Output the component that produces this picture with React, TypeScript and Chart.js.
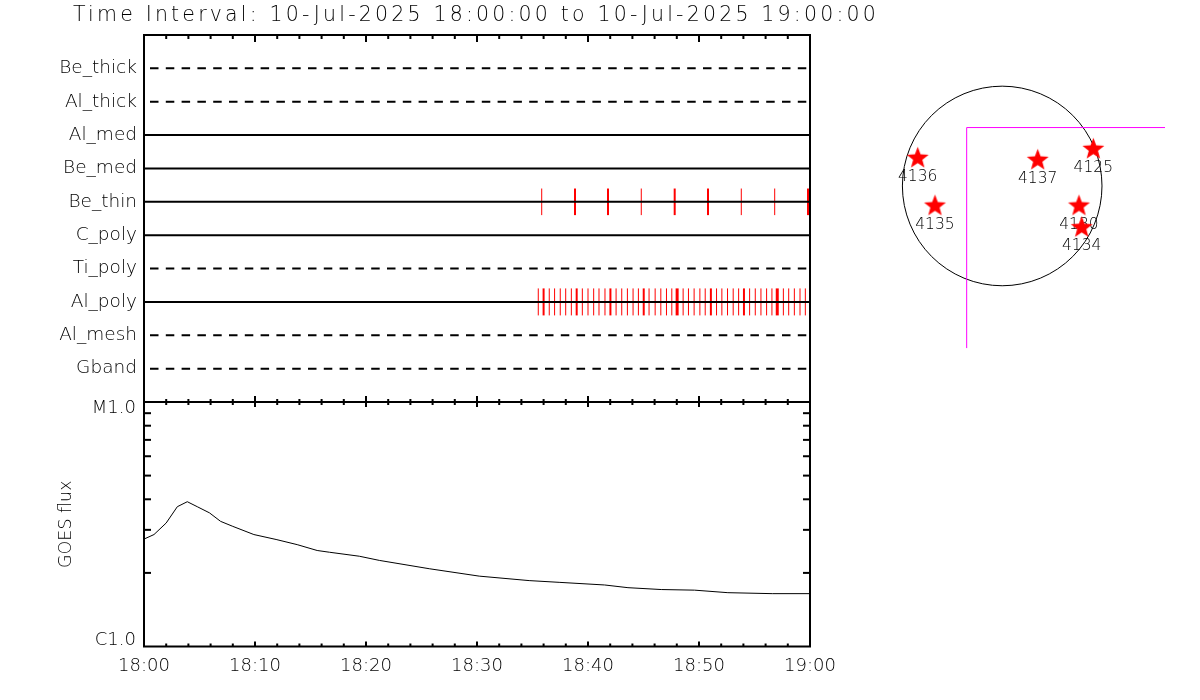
import React, { useEffect, useRef } from 'react';
import { Chart, registerables } from 'chart.js';

Chart.register(...registerables);

const FONT = 'DejaVu Sans';
const WEIGHT = '200';
const TITLE = 'Time Interval: 10-Jul-2025 18:00:00 to 10-Jul-2025 19:00:00';

// ---------- top panel: attenuator / filter states ----------
const FILTERS = ['Be_thick', 'Al_thick', 'Al_med', 'Be_med', 'Be_thin', 'C_poly', 'Ti_poly', 'Al_poly', 'Al_mesh', 'Gband'];
const FILTER_DASHED = [true, true, false, false, false, false, true, false, true, true];

// minutes after 18:00
const BE_THIN_TIMES = [35.83, 38.83, 41.8, 44.8, 47.81, 50.81, 53.81, 56.82, 59.82];
const BE_THIN_WIDTHS = [1, 2, 2, 1, 2, 2, 1, 1, 2];

const AL_POLY_TIMES = [
  35.52, 36.0, 36.51, 36.99, 37.5, 37.99, 38.5, 38.98, 39.49, 40.0,
  40.51, 40.99, 41.53, 42.02, 42.53, 43.04, 43.55, 44.06, 44.54, 45.02,
  45.5, 46.05, 46.56, 47.07, 47.55, 48.03, 48.57, 49.05, 49.56, 50.08,
  50.56, 51.07, 51.58, 52.06, 52.57, 53.08, 53.57, 54.05, 54.56, 55.07,
  55.58, 56.09, 56.57, 57.05, 57.6, 58.08, 58.59, 59.1, 59.58,
];
const AL_POLY_WIDTHS = [
  1, 2, 1, 1, 1, 1, 1, 2, 1, 1,
  1, 1, 1, 2, 1, 1, 1, 1, 1, 2,
  1, 1, 1, 1, 1, 3, 1, 1, 1, 1,
  1, 2, 1, 1, 1, 1, 1, 2, 1, 1,
  1, 1, 1, 3, 1, 1, 1, 1, 1,
];

// ---------- GOES panel ----------
const GOES_TIMES = [0, 0.9, 2.0, 3.0, 3.9, 4.8, 5.9, 6.9, 8.0, 9.9, 11.9, 13.8, 15.6, 16.7, 19.4, 21.2, 25.7, 30.2, 34.7, 37.4, 41.5, 43.6, 46.6, 49.6, 52.6, 56.6, 60];
const GOES_FLUX = [
  2.75e-6, 2.87e-6, 3.2e-6, 3.73e-6, 3.91e-6, 3.73e-6, 3.52e-6, 3.25e-6, 3.1e-6, 2.87e-6,
  2.74e-6, 2.61e-6, 2.47e-6, 2.43e-6, 2.34e-6, 2.25e-6, 2.08e-6, 1.94e-6, 1.86e-6, 1.83e-6,
  1.785e-6, 1.74e-6, 1.71e-6, 1.7e-6, 1.66e-6, 1.645e-6, 1.645e-6,
];

// ---------- axes ----------
const X_MIN = 0;
const X_MAX = 60;
const X_MAJOR = [0, 10, 20, 30, 40, 50, 60];
const X_LABELS = ['18:00', '18:10', '18:20', '18:30', '18:40', '18:50', '19:00'];
const X_MINOR = [2, 4, 6, 8, 12, 14, 16, 18, 22, 24, 26, 28, 32, 34, 36, 38, 42, 44, 46, 48, 52, 54, 56, 58];
const Y_MIN = 1e-6;
const Y_MAX = 1e-5;
const Y_MAJOR = [1e-5, 1e-6];
const Y_LABELS = ['M1.0', 'C1.0'];
const Y_MINOR = [2e-6, 3e-6, 4e-6, 5e-6, 6e-6, 7e-6, 8e-6, 9e-6];

// ---------- solar disk panel (arcsec) ----------
const REGION_IDS = ['4136', '4137', '4125', '4135', '4130', '4134'];
const REGION_X = [-799, 336, 862, -636, 726, 752];
const REGION_Y = [262, 243, 347, -190, -190, -395];
const LIMB_RADIUS = 944;
const FOV_X = [-336, -336, 1540];
const FOV_Y = [-1537, 553, 553];
const SUN_X_RANGE = [-1540, 1540];
const SUN_Y_RANGE = [-1537, 1540];

type FrameCfg = {
  topMajor: number; topMinor: number; bottomMajor: number; bottomMinor: number; yMinor: number;
};

function framePlugin(cfg: FrameCfg) {
  return {
    id: 'frame',
    afterDraw(chart: any) {
      const { ctx, chartArea: a, scales } = chart;
      const x = scales.x;
      const y = scales.y;
      ctx.save();
      ctx.setLineDash([]);
      ctx.strokeStyle = '#000';
      ctx.lineWidth = 2;
      const seg = (x1: number, y1: number, x2: number, y2: number) => {
        ctx.beginPath(); ctx.moveTo(x1, y1); ctx.lineTo(x2, y2); ctx.stroke();
      };
      const xTicks = (vals: number[], topLen: number, botLen: number) => {
        vals.forEach((v) => {
          const p = x.getPixelForValue(v);
          if (topLen) seg(p, a.top, p, a.top + topLen);
          if (botLen) seg(p, a.bottom, p, a.bottom - botLen);
        });
      };
      xTicks(X_MAJOR, cfg.topMajor, cfg.bottomMajor);
      xTicks(X_MINOR, cfg.topMinor, cfg.bottomMinor);
      if (cfg.yMinor) {
        Y_MINOR.forEach((v) => {
          const p = y.getPixelForValue(v);
          seg(a.left, p, a.left + cfg.yMinor, p);
          seg(a.right, p, a.right - cfg.yMinor, p);
        });
      }
      ctx.strokeRect(a.left, a.top, a.right - a.left, a.bottom - a.top);
      ctx.restore();
    },
  };
}

const titlePlugin = {
  id: 'idlTitle',
  afterDraw(chart: any) {
    const { ctx, chartArea: a } = chart;
    ctx.save();
    ctx.font = `${WEIGHT} 20.5px "${FONT}"`;
    (ctx as any).letterSpacing = '3.2px';
    ctx.fillStyle = '#000';
    ctx.textAlign = 'center';
    ctx.textBaseline = 'middle';
    ctx.fillText(TITLE, (a.left + a.right) / 2 - 1, 16);
    ctx.restore();
  },
};

const goesLabelPlugin = {
  id: 'goesLabels',
  afterDraw(chart: any) {
    const { ctx, chartArea: a, scales } = chart;
    ctx.save();
    ctx.font = `${WEIGHT} 18px "${FONT}"`;
    ctx.fillStyle = '#000';
    ctx.textAlign = 'right';
    ctx.textBaseline = 'middle';
    Y_MAJOR.forEach((v, i) => {
      const p = scales.y.getPixelForValue(v);
      const yy = Math.min(Math.max(p, a.top + 6.5), a.bottom - 6.5);
      ctx.fillText(Y_LABELS[i], a.left - 8, yy);
    });
    ctx.restore();
  },
};

const limbPlugin = {
  id: 'limb',
  beforeDatasetsDraw(chart: any) {
    const { ctx, scales } = chart;
    const cx = scales.x.getPixelForValue(0);
    const cy = scales.y.getPixelForValue(0);
    const r = scales.x.getPixelForValue(LIMB_RADIUS) - cx;
    ctx.save();
    ctx.strokeStyle = '#000';
    ctx.lineWidth = 1;
    ctx.beginPath();
    ctx.arc(cx, cy, r, 0, Math.PI * 2);
    ctx.stroke();
    ctx.restore();
  },
};

const regionLabelPlugin = {
  id: 'regionLabels',
  afterDatasetDraw(chart: any, args: any) {
    const ds = chart.data.datasets[args.index];
    if (!ds.regionId) return;
    const pt = args.meta.data[0];
    const { ctx } = chart;
    ctx.save();
    ctx.font = `${WEIGHT} 15.5px "${FONT}"`;
    ctx.fillStyle = '#000';
    ctx.textAlign = 'center';
    ctx.textBaseline = 'middle';
    ctx.fillText(ds.regionId, pt.x, pt.y + 18.5);
    ctx.restore();
  },
};

function makeStar(r: number, color: string) {
  const size = Math.ceil(r * 2) + 2;
  const c = document.createElement('canvas');
  c.width = size;
  c.height = size;
  const g = c.getContext('2d')!;
  g.fillStyle = color;
  g.beginPath();
  for (let k = 0; k < 10; k++) {
    const rr = k % 2 === 0 ? r : r * 0.42;
    const ang = -Math.PI / 2 + (k * Math.PI) / 5;
    const px = size / 2 + rr * Math.cos(ang);
    const py = size / 2 + rr * Math.sin(ang);
    if (k === 0) g.moveTo(px, py); else g.lineTo(px, py);
  }
  g.closePath();
  g.fill();
  return c;
}

const baseOptions = {
  responsive: false,
  animation: false as const,
  devicePixelRatio: 1,
  events: [] as any[],
};

export default function App() {
  const topRef = useRef<HTMLCanvasElement>(null);
  const goesRef = useRef<HTMLCanvasElement>(null);
  const sunRef = useRef<HTMLCanvasElement>(null);

  useEffect(() => {
    const charts: Chart[] = [];
    Chart.defaults.font.family = FONT;
    Chart.defaults.color = '#000';

    const rowOf = (name: string) => FILTERS.indexOf(name) + 1;

    // ---- top panel ----
    charts.push(new Chart(topRef.current!, {
      type: 'line',
      data: {
        datasets: [
          ...FILTERS.map((name, i) => ({
            label: name,
            data: [{ x: X_MIN, y: i + 1 }, { x: X_MAX, y: i + 1 }],
            borderColor: '#000',
            borderWidth: 2,
            borderDash: FILTER_DASHED[i] ? [8.5, 7.3] : [],
            borderDashOffset: 9.8,
            pointRadius: 0,
          })),
          {
            label: 'Be_thin events',
            data: BE_THIN_TIMES.map((t) => ({ x: t, y: rowOf('Be_thin') })),
            showLine: false,
            pointStyle: 'line',
            pointRotation: 90,
            pointRadius: 13.3,
            pointBorderColor: '#ff0000',
            pointBorderWidth: BE_THIN_WIDTHS,
          },
          {
            label: 'Al_poly events',
            data: AL_POLY_TIMES.map((t) => ({ x: t, y: rowOf('Al_poly') })),
            showLine: false,
            pointStyle: 'line',
            pointRotation: 90,
            pointRadius: 13.5,
            pointBorderColor: '#ff0000',
            pointBorderWidth: AL_POLY_WIDTHS,
          },
        ] as any,
      },
      options: {
        ...baseOptions,
        layout: { autoPadding: false, padding: { left: 0, top: 35, right: 390, bottom: 298 } },
        plugins: { legend: { display: false }, tooltip: { enabled: false }, title: { display: false } },
        scales: {
          x: { type: 'linear', min: X_MIN, max: X_MAX, display: false },
          y: {
            type: 'linear', min: 0, max: FILTERS.length + 1, reverse: true,
            grid: { display: false, drawTicks: false },
            border: { display: false },
            ticks: {
              stepSize: 1, autoSkip: false, padding: 7, color: '#000',
              font: { family: FONT, size: 18.5, weight: WEIGHT },
              callback: (v: any) => FILTERS[Number(v) - 1] ?? '',
            },
            afterFit: (s: any) => { s.width = 144; },
          },
        },
      } as any,
      plugins: [framePlugin({ topMajor: 7, topMinor: 4, bottomMajor: 6, bottomMinor: 3, yMinor: 0 }), titlePlugin],
    }));

    // ---- GOES panel ----
    charts.push(new Chart(goesRef.current!, {
      type: 'line',
      data: {
        datasets: [{
          label: 'GOES flux',
          data: GOES_TIMES.map((t, i) => ({ x: t, y: GOES_FLUX[i] })),
          borderColor: '#000',
          borderWidth: 1,
          pointRadius: 0,
          tension: 0,
        }],
      },
      options: {
        ...baseOptions,
        layout: { autoPadding: false, padding: { left: 0, top: 402, right: 390, bottom: 23.5 } },
        plugins: { legend: { display: false }, tooltip: { enabled: false } },
        scales: {
          x: {
            type: 'linear', min: X_MIN, max: X_MAX, position: 'bottom',
            grid: { display: false, drawTicks: false },
            border: { display: false },
            ticks: {
              stepSize: 10, autoSkip: false, maxRotation: 0, padding: 9, color: '#000',
              font: { family: FONT, size: 18, weight: WEIGHT },
              callback: (v: any) => X_LABELS[X_MAJOR.indexOf(Number(v))] ?? '',
            },
            afterFit: (s: any) => { s.height = 30; },
          },
          y: {
            type: 'logarithmic', min: Y_MIN, max: Y_MAX,
            grid: { display: false, drawTicks: false },
            border: { display: false },
            ticks: { display: false },
            title: {
              display: true, text: 'GOES flux', color: '#000',
              font: { family: FONT, size: 17.5, weight: WEIGHT },
              padding: { top: 56, bottom: 0 },
            },
            afterFit: (s: any) => { s.width = 144; },
          },
        },
      } as any,
      plugins: [framePlugin({ topMajor: 5, topMinor: 3, bottomMajor: 5, bottomMinor: 3, yMinor: 7 }), goesLabelPlugin],
    }));

    // ---- solar disk ----
    const star = makeStar(11.5, '#ff0000');
    charts.push(new Chart(sunRef.current!, {
      type: 'scatter',
      data: {
        datasets: [
          {
            type: 'line',
            label: 'FOV',
            data: FOV_X.map((x, i) => ({ x, y: FOV_Y[i] })),
            borderColor: '#ff00ff',
            borderWidth: 1,
            pointRadius: 0,
            showLine: true,
            order: 100,
          },
          ...REGION_IDS.map((id, i) => ({
            label: id,
            regionId: id,
            data: [{ x: REGION_X[i], y: REGION_Y[i] }],
            pointStyle: star,
            pointRadius: 11,
            order: REGION_IDS.length - i,
          })),
        ] as any,
      },
      options: {
        ...baseOptions,
        layout: { autoPadding: false, padding: { left: 839.4, right: 35, top: 23.3, bottom: 351.7 } },
        plugins: { legend: { display: false }, tooltip: { enabled: false } },
        scales: {
          x: { type: 'linear', min: SUN_X_RANGE[0], max: SUN_X_RANGE[1], display: false },
          y: { type: 'linear', min: SUN_Y_RANGE[0], max: SUN_Y_RANGE[1], display: false },
        },
      } as any,
      plugins: [limbPlugin, regionLabelPlugin],
    }));

    return () => charts.forEach((c) => c.destroy());
  }, []);

  const cs: React.CSSProperties = { position: 'absolute', left: 0, top: 0, width: 1200, height: 700 };
  return (
    <div style={{ position: 'fixed', left: 0, top: 0, width: 1200, height: 700, background: '#fff' }}>
      <canvas ref={topRef} width={1200} height={700} style={cs} />
      <canvas ref={goesRef} width={1200} height={700} style={cs} />
      <canvas ref={sunRef} width={1200} height={700} style={cs} />
    </div>
  );
}
